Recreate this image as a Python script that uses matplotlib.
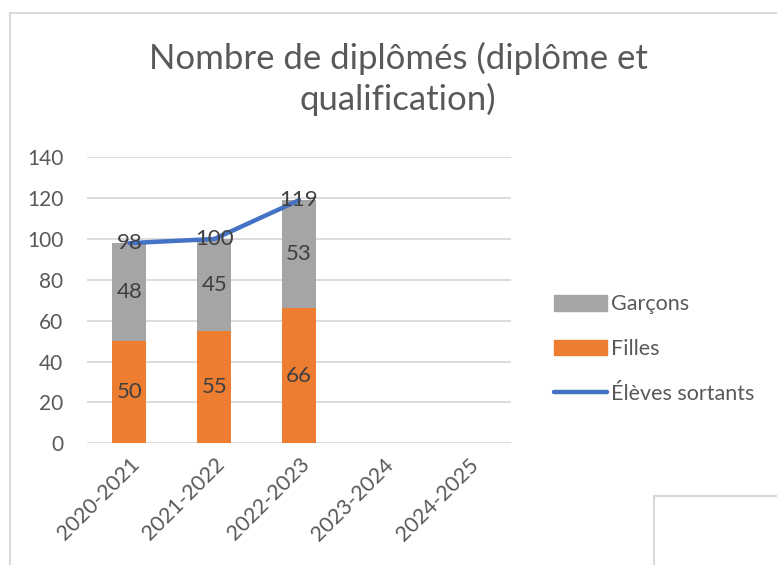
import matplotlib
matplotlib.use("Agg")
import matplotlib.pyplot as plt
from matplotlib.lines import Line2D
from matplotlib.patches import Patch
import numpy as np

plt.rcParams['font.family'] = ['Lato', 'DejaVu Sans']

categories = ["2020-2021", "2021-2022", "2022-2023", "2023-2024", "2024-2025"]
filles = [50, 55, 66]
garcons = [48, 45, 53]
sortants = [98, 100, 119]
yticks = [0, 20, 40, 60, 80, 100, 120, 140]

c_orange = "#ED7D31"
c_gray = "#A5A5A5"
c_blue = "#4472C4"
txt = "#595959"
lbl = "#404040"
grid = "#D9D9D9"

fig = plt.figure(figsize=(7.77, 5.65), dpi=100)
W, H = 777, 565
ax = fig.add_axes([87 / W, 1 - 443.3 / H, (511 - 87) / W, (443.3 - 157.3) / H])

x_all = np.arange(len(categories))
x = x_all[:len(filles)]
ax.bar(x, filles, width=0.4, color=c_orange, zorder=2)
ax.bar(x, garcons, width=0.4, bottom=filles, color=c_gray, zorder=2)
ax.plot(x, sortants, color=c_blue, lw=3.2, solid_capstyle='round', zorder=3)

for xi, f, g, s in zip(x, filles, garcons, sortants):
    ax.text(xi, f / 2, str(f), ha='center', va='center', color=lbl, fontsize=16, zorder=4)
    ax.text(xi, f + g / 2, str(g), ha='center', va='center', color=lbl, fontsize=16, zorder=4)
    ax.text(xi, s, str(s), ha='center', va='center', color=lbl, fontsize=16, zorder=4)

ax.set_xlim(-0.5, len(categories) - 0.5)
ax.set_ylim(0, 140)
ax.set_yticks(yticks)
ax.set_xticks(x_all)
ax.set_xticklabels(categories, rotation=45, ha='right', rotation_mode='anchor')
ax.tick_params(axis='both', length=0, colors=txt)
ax.tick_params(axis='y', pad=17, labelsize=15)
ax.tick_params(axis='x', pad=8, labelsize=15.5)
ax.grid(axis='y', color=grid, lw=1.3, zorder=0)
for sp in ax.spines.values():
    sp.set_visible(False)

fig.text(398 / W, 1 - 79 / H, "Nombre de diplômés (diplôme et\nqualification)", ha='center', va='center',
         fontsize=25, color=txt, linespacing=1.3)

handles = [Patch(color=c_gray), Patch(color=c_orange), Line2D([0], [0], color=c_blue, lw=3.2, solid_capstyle='round')]
fig.legend(handles, ["Garçons", "Filles", "Élèves sortants"], loc='center left',
           bbox_to_anchor=(537 / W, 1 - 349 / H), frameon=False, fontsize=15.5, labelcolor=txt,
           handlelength=2.45, handleheight=0.75, handletextpad=0.2, labelspacing=1.15,
           borderpad=0.3)

# chart border
fig.add_artist(Line2D([10 / W, 10 / W], [0, 1 - 12.5 / H], color=grid, lw=1.5, transform=fig.transFigure))
fig.add_artist(Line2D([10 / W, 1], [1 - 12.5 / H, 1 - 12.5 / H], color=grid, lw=1.5, transform=fig.transFigure))
fig.add_artist(Line2D([654 / W, 654 / W], [0, 1 - 496 / H], color=grid, lw=1.5, transform=fig.transFigure))
fig.add_artist(Line2D([654 / W, 1], [1 - 496 / H, 1 - 496 / H], color=grid, lw=1.5, transform=fig.transFigure))

fig.savefig("out.png", dpi=100)
